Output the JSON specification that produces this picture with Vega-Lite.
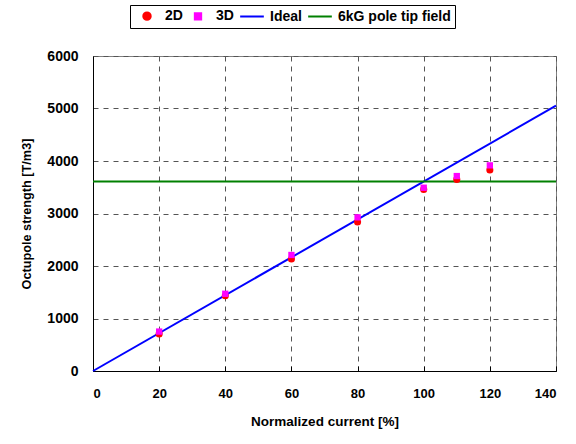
{
  "$schema": "https://vega.github.io/schema/vega-lite/v6.json",
  "width": 463,
  "height": 315,
  "autosize": "none",
  "padding": {"left": 93, "top": 56, "right": 20, "bottom": 73},
  "background": "white",
  "config": {
    "font": "Liberation Sans",
    "view": {"stroke": "#808080", "strokeWidth": 1}
  },
  "data": {
    "values": [
      {"series": "Ideal", "x": 0, "y": 0},
      {"series": "Ideal", "x": 140, "y": 5053},
      {"series": "6kG pole tip field", "x": 0, "y": 3610},
      {"series": "6kG pole tip field", "x": 140, "y": 3610},
      {"series": "2D", "x": 20, "y": 707},
      {"series": "2D", "x": 40, "y": 1433},
      {"series": "2D", "x": 60, "y": 2133},
      {"series": "2D", "x": 80, "y": 2838},
      {"series": "2D", "x": 100, "y": 3459},
      {"series": "2D", "x": 110, "y": 3650},
      {"series": "2D", "x": 120, "y": 3827},
      {"series": "3D", "x": 20, "y": 751},
      {"series": "3D", "x": 40, "y": 1471},
      {"series": "3D", "x": 60, "y": 2210},
      {"series": "3D", "x": 80, "y": 2927},
      {"series": "3D", "x": 100, "y": 3491},
      {"series": "3D", "x": 110, "y": 3713},
      {"series": "3D", "x": 120, "y": 3917}
    ]
  },
  "encoding": {
    "x": {
      "field": "x", "type": "quantitative",
      "scale": {"domain": [0, 140], "nice": false, "zero": false},
      "axis": {
        "title": "Normalized current [%]",
        "values": [0, 20, 40, 60, 80, 100, 120, 140],
        "format": "d",
        "grid": true, "gridDash": [5, 5], "gridColor": "#555555", "gridWidth": 1,
        "domainColor": "black", "domainWidth": 1,
        "tickColor": "black", "tickSize": -5,
        "labelFontWeight": "bold", "labelFontSize": 13, "labelColor": "black", "labelPadding": 21,
        "titleFontWeight": "bold", "titleFontSize": 13.5, "titleColor": "black", "titlePadding": 14
      }
    },
    "y": {
      "field": "y", "type": "quantitative",
      "scale": {"domain": [0, 6000], "nice": false, "zero": false},
      "axis": {
        "title": "Octupole strength [T/m3]",
        "values": [0, 1000, 2000, 3000, 4000, 5000, 6000],
        "format": "d",
        "grid": true, "gridDash": [5, 5], "gridColor": "#555555", "gridWidth": 1,
        "domainColor": "black", "domainWidth": 1,
        "ticks": false,
        "labelFontWeight": "bold", "labelFontSize": 14, "labelColor": "black", "labelPadding": 15,
        "titleFontWeight": "bold", "titleFontSize": 12.7, "titleColor": "black", "titlePadding": 13
      }
    },
    "color": {
      "field": "series", "type": "nominal",
      "scale": {
        "domain": ["2D", "3D", "Ideal", "6kG pole tip field"],
        "range": ["#ff0000", "#ff00ff", "#0000ff", "#008000"]
      },
      "legend": {
        "title": null,
        "orient": "none",
        "legendX": 37,
        "legendY": -51,
        "direction": "horizontal",
        "strokeColor": "black",
        "fillColor": "white",
        "padding": 4,
        "labelFont": "Liberation Sans",
        "labelFontWeight": "bold",
        "labelFontSize": 14,
        "labelColor": "black",
        "columnPadding": 2,
        "symbolSize": 100,
        "symbolOffset": 6,
        "labelOffset": 11,
        "encode": {
          "symbols": {
            "update": {
              "shape": {"signal": "datum.value == '2D' ? 'circle' : (datum.value == '3D' ? 'square' : 'stroke')"},
              "size": {"signal": "datum.value == 'Ideal' || datum.value == '6kG pole tip field' ? 560 : (datum.value == '2D' ? 55 : 40)"},
              "fill": {"signal": "datum.value == '2D' ? '#ff0000' : (datum.value == '3D' ? '#ff00ff' : 'transparent')"},
              "stroke": {"signal": "datum.value == 'Ideal' ? '#0000ff' : (datum.value == '6kG pole tip field' ? '#008000' : 'transparent')"},
              "strokeWidth": {"value": 2}
            }
          }
        }
      }
    }
  },
  "layer": [
    {
      "transform": [{"filter": "datum.series == 'Ideal' || datum.series == '6kG pole tip field'"}],
      "mark": {"type": "line", "strokeWidth": 2}
    },
    {
      "transform": [{"filter": "datum.series == '2D'"}],
      "mark": {"type": "point", "filled": true, "opacity": 1, "shape": "circle", "size": 50}
    },
    {
      "transform": [{"filter": "datum.series == '3D'"}],
      "mark": {"type": "point", "filled": true, "opacity": 1, "shape": "square", "size": 40}
    }
  ]
}
